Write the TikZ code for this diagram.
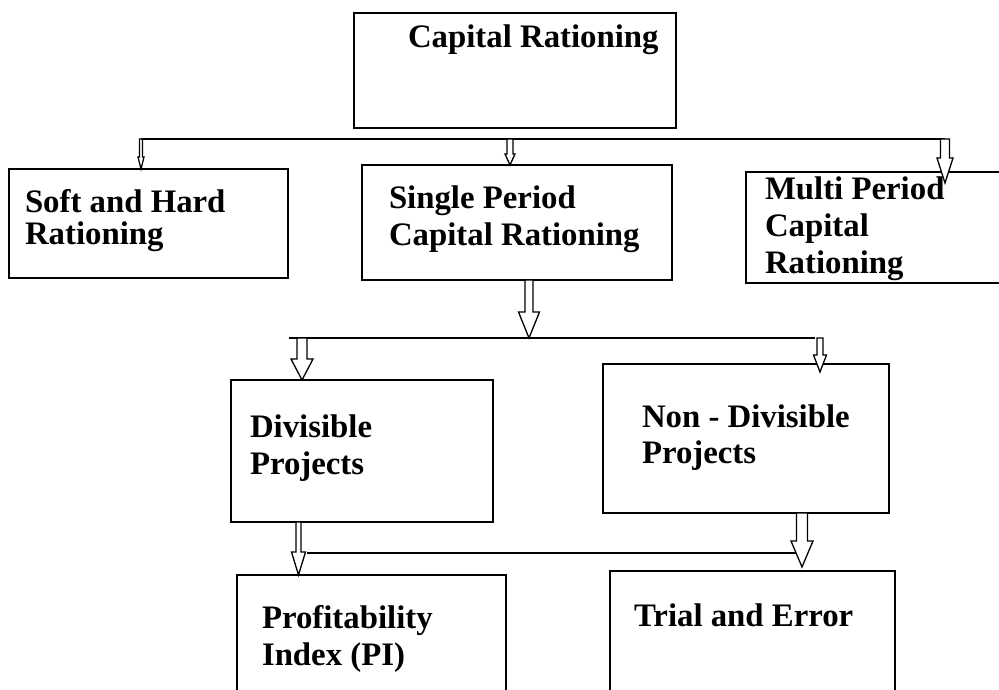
\documentclass[tikz,border=0pt]{standalone}
\usepackage{fontspec}
\setmainfont{Liberation Serif}
\usetikzlibrary{calc}

\tikzset{
  box/.style={draw=black, line width=1.7pt, inner sep=0pt, outer sep=0pt},
  lbl/.style={inner sep=0pt, outer sep=0pt, align=left, anchor=base west,
    font=\fontsize{32.8}{37}\selectfont\bfseries},
  arrowline/.style={draw=black, line width=1.3pt, fill=white, line join=miter}
}

% hollow block arrow: from, to, shaft half width, head half width, head length
\newcommand{\blockarrow}[5]{%
  \draw [arrowline] ($(#1)+(-#3,0)$) -- ($(#2)+(-#3,-#5)$) -- ($(#2)+(-#4,-#5)$) -- (#2)
    -- ($(#2)+(#4,-#5)$) -- ($(#2)+(#3,-#5)$) -- ($(#1)+(#3,0)$) -- cycle;}

\begin{document}
\begin{tikzpicture}[x=1pt, y=-1pt]
\useasboundingbox (0,0) rectangle (999,689);
\clip (0,0) rectangle (999,689);
%% boxes
\node [box, minimum width=322, minimum height=115] (capital) at (515,70.5) {};
\node [box, minimum width=279, minimum height=109] (softhard) at (148.5,223.5) {};
\node [box, minimum width=310, minimum height=115] (single) at (517,222.5) {};
\node [box, minimum width=264, minimum height=111] (multi) at (878,227.5) {};
\node [box, minimum width=262, minimum height=142] (divisible) at (362,451) {};
\node [box, minimum width=286, minimum height=149] (nondiv) at (746,438.5) {};
\node [box, minimum width=269, minimum height=125] (pindex) at (371.5,637.5) {};
\node [box, minimum width=285, minimum height=129] (trial) at (752.5,635.5) {};
%% labels (placed at the baseline of the last line)
\node [lbl] (capitaltxt) at (408,47) {Capital Rationing};
\node [lbl] (softhardtxt) at (25,244) {Soft and Hard\\[-5pt]Rationing};
\node [lbl] (singletxt) at (389,245) {Single Period\\Capital Rationing};
\node [lbl] (multitxt) at (765,273) {Multi Period\\Capital\\Rationing};
\node [lbl] (divisibletxt) at (250,474) {Divisible\\Projects};
\node [lbl] (nondivtxt) at (642,463) {Non - Divisible\\[-1pt]Projects};
\node [lbl] (pindextxt) at (262,665) {Profitability\\Index (PI)};
\node [lbl] (trialtxt) at (634,626) {Trial and Error};
%% first level
\coordinate (bus1w) at (141,139);
\coordinate (bus1m) at (510,139);
\coordinate (bus1e) at (945,139);
\draw [line width=1.7pt] (bus1w) -- (bus1e);
\blockarrow{bus1w}{bus1w |- softhard.north}{1.5}{3}{12}
\blockarrow{bus1m}{bus1m |- single.north}{3}{5}{11}
\blockarrow{bus1e}{$(bus1e |- multi.north)+(0,11)$}{4.5}{8}{25}
%% second level
\coordinate (singleout) at ($(single.south)+(12,0)$);
\coordinate (bus2w) at (289,338);
\coordinate (bus2e) at (815,338);
\coordinate (bus2l) at (302,338);
\coordinate (bus2r) at (820,338);
\draw [line width=1.7pt] (bus2w) -- (bus2e);
\blockarrow{singleout}{singleout |- bus2w}{4}{10.5}{26}
\blockarrow{bus2l}{bus2l |- divisible.north}{5}{11}{21}
\blockarrow{bus2r}{$(bus2r |- nondiv.north)+(0,8)$}{3}{6.5}{17}
%% third level
\coordinate (divout) at (298.5,522);
\coordinate (nondivout) at (802,513);
\coordinate (bus3w) at (307,553);
\coordinate (bus3e) at (796,553);
\draw [line width=1.7pt] (bus3w) -- (bus3e);
\blockarrow{divout}{divout |- pindex.north}{2.5}{7}{23}
\blockarrow{nondivout}{$(nondivout |- trial.north)+(0,-4)$}{5.5}{11}{26}
\end{tikzpicture}
\end{document}
